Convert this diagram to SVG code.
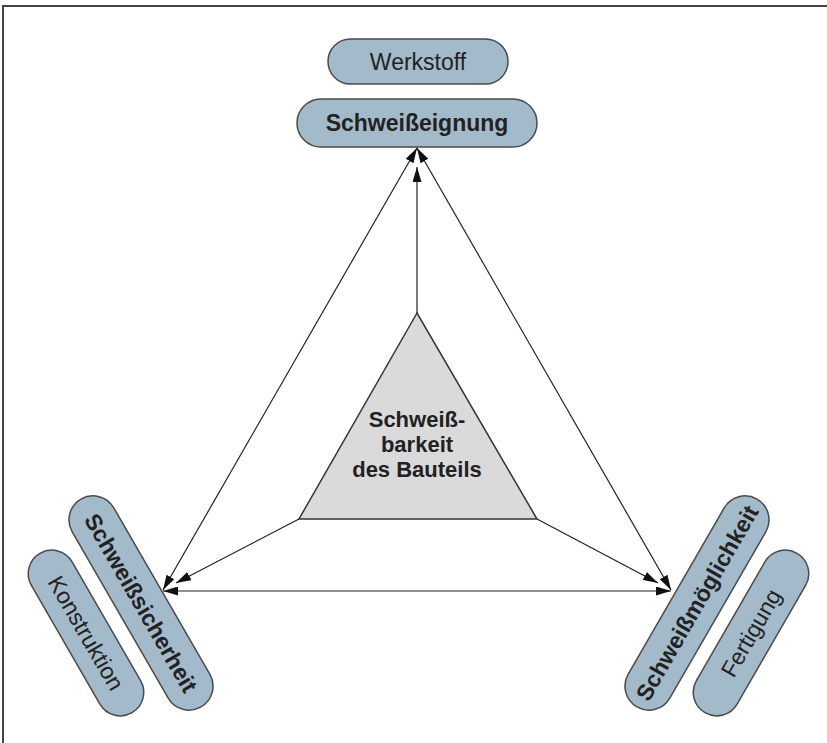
<svg xmlns="http://www.w3.org/2000/svg" width="827" height="743" viewBox="0 0 827 743">
<defs>
<style>
.pill{fill:#a3bacb;stroke:#4a4a4a;stroke-width:1.5}
.t{font-family:"Liberation Sans",Arial,sans-serif;fill:#222;text-anchor:middle}
.b{font-weight:bold;font-size:23px}
.bc{font-weight:bold;font-size:22px}
.r{font-size:23px}
.c{stroke:#222;stroke-width:1.2;fill:none}
</style>
<marker id="ah" viewBox="0 0 15 9" refX="15" refY="4.5" markerWidth="15" markerHeight="9" markerUnits="userSpaceOnUse" orient="auto-start-reverse">
<path d="M0,0 L15,4.5 L0,9 z" fill="#111"/>
</marker>
</defs>
<rect x="0" y="0" width="827" height="743" fill="#fff"/>
<path d="M3,743 V6 H827" fill="none" stroke="#444" stroke-width="2"/>

<g id="center">
<polygon points="417,313 299,519 537,519" fill="#dadada" stroke="#333" stroke-width="1.5"/>
<text class="t bc" x="417" y="427">Schweiß-</text>
<text class="t bc" x="417" y="452">barkeit</text>
<text class="t bc" x="417" y="477">des Bauteils</text>
</g>

<g id="werkstoff">
<rect class="pill" x="328" y="39" width="180" height="45" rx="22.5"/>
<text class="t r" x="418" y="70">Werkstoff</text>
</g>
<g id="schweisseignung">
<rect class="pill" x="297" y="99" width="240" height="48" rx="24"/>
<text class="t b" x="417" y="131">Schweißeignung</text>
</g>

<g id="schweisssicherheit" transform="translate(141,603) rotate(60)">
<rect class="pill" x="-120" y="-24" width="240" height="48" rx="24"/>
<text class="t b" x="0" y="8">Schweißsicherheit</text>
</g>
<g id="konstruktion" transform="translate(86,633) rotate(60)">
<rect class="pill" x="-92" y="-23.5" width="184" height="47" rx="23.5"/>
<text class="t r" x="0" y="8">Konstruktion</text>
</g>

<g id="schweissmoeglichkeit" transform="translate(697,603) rotate(-60)">
<rect class="pill" x="-120" y="-24" width="240" height="48" rx="24"/>
<text class="t b" x="0" y="8">Schweißmöglichkeit</text>
</g>
<g id="fertigung" transform="translate(751,633) rotate(-60)">
<rect class="pill" x="-92" y="-23.5" width="184" height="47" rx="23.5"/>
<text class="t r" x="0" y="8">Fertigung</text>
</g>

<g id="connectors">
<line class="c" x1="417" y1="148" x2="163" y2="590" marker-start="url(#ah)" marker-end="url(#ah)"/>
<line class="c" x1="417" y1="148" x2="671" y2="590" marker-start="url(#ah)" marker-end="url(#ah)"/>
<line class="c" x1="163" y1="591" x2="671" y2="591" marker-start="url(#ah)" marker-end="url(#ah)"/>
<line class="c" x1="417" y1="313" x2="417" y2="167" marker-end="url(#ah)"/>
<line class="c" x1="299" y1="519" x2="176" y2="583" marker-end="url(#ah)"/>
<line class="c" x1="537" y1="519" x2="658" y2="583" marker-end="url(#ah)"/>
</g>
</svg>
